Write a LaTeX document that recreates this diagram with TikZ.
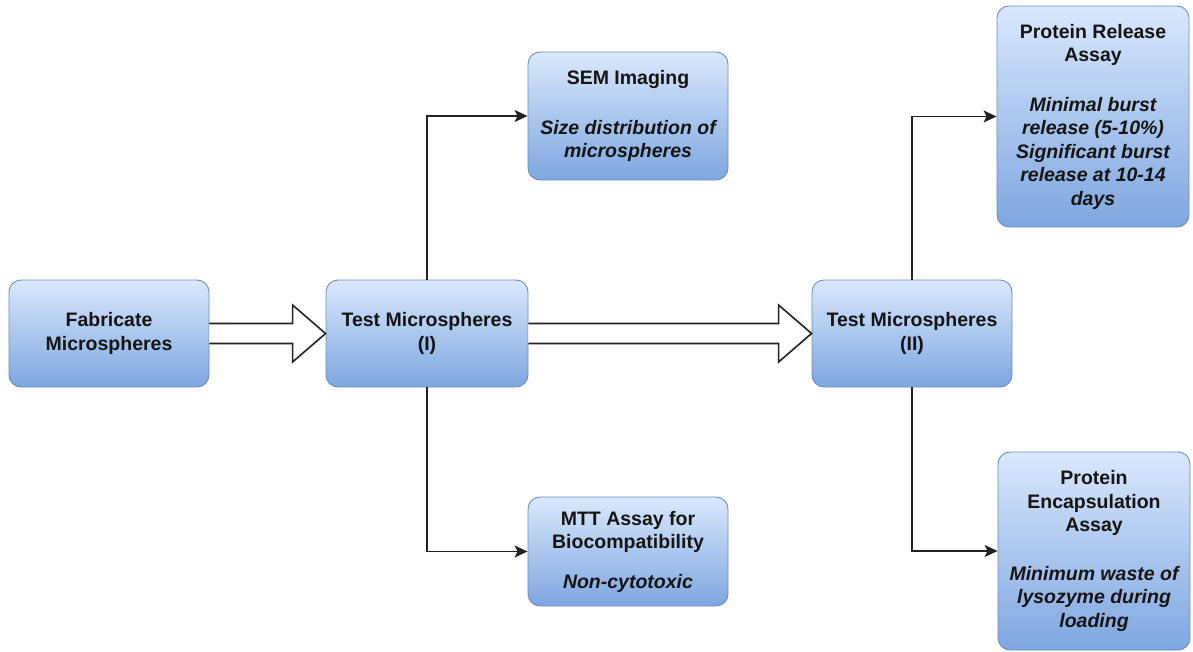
\documentclass[tikz,border=0pt]{standalone}
\usepackage{fontspec}
\setmainfont{Liberation Sans}
\usetikzlibrary{arrows.meta,calc}
\definecolor{topc}{HTML}{DAE8FC}
\definecolor{botc}{HTML}{7EA6E0}
\definecolor{bordc}{HTML}{6C8EBF}
\definecolor{txtc}{HTML}{151515}
\definecolor{linec}{HTML}{222222}
\begin{document}
\begin{tikzpicture}[x=1pt,y=-1pt,
  box/.style={draw=bordc, line width=0.9pt, rounded corners=12pt,
    top color=topc, bottom color=botc, align=center, text=txtc,
    font=\bfseries\fontsize{19.5}{23.5}\selectfont, inner sep=2pt},
  blockarrow/.style={draw=linec, line width=1.6pt, fill=white, line join=miter},
  conn/.style={draw=linec, line width=1.4pt, -{Stealth[length=13pt,width=12pt,inset=3pt]}}
]
\useasboundingbox (0,0) rectangle (1193,651);

\node[box, minimum width=200pt, minimum height=107pt] (A) at (109,333.5) {Fabricate\\Microspheres};
\node[box, minimum width=202pt, minimum height=107pt] (B) at (427,333.5) {Test Microspheres\\(I)};
\node[box, minimum width=200pt, minimum height=107pt] (C) at (912,333.5) {Test Microspheres\\(II)};

\node[box, minimum width=200pt, minimum height=128pt] (SEM) at (628,116)
  {SEM Imaging\\[26pt]{\itshape Size distribution of}\\{\itshape microspheres}};
\node[box, minimum width=200pt, minimum height=109pt] (MTT) at (628,551.5)
  {MTT Assay for\\Biocompatibility\\[16pt]{\itshape Non-cytotoxic}};
\node[box, minimum width=192pt, minimum height=221pt] (PR) at (1093,116.5)
  {Protein Release\\Assay\\[26pt]{\itshape Minimal burst}\\{\itshape release (5-10\%)}\\{\itshape Significant burst}\\{\itshape release at 10-14}\\{\itshape days}};
\node[box, minimum width=192pt, minimum height=198pt] (PE) at (1094,551)
  {Protein\\Encapsulation\\Assay\\[25pt]{\itshape Minimum waste of}\\{\itshape lysozyme during}\\{\itshape loading}};

% block arrows
\draw[blockarrow] ($(A.east)+(0,-10)$) -- ($(B.west)+(-33,-10)$) -- ($(B.west)+(-33,-28.5)$)
  -- (B.west) -- ($(B.west)+(-33,28.5)$) -- ($(B.west)+(-33,10)$) -- ($(A.east)+(0,10)$);
\draw[blockarrow] ($(B.east)+(0,-10)$) -- ($(C.west)+(-33,-10)$) -- ($(C.west)+(-33,-28.5)$)
  -- (C.west) -- ($(C.west)+(-33,28.5)$) -- ($(C.west)+(-33,10)$) -- ($(B.east)+(0,10)$);

% connectors
\draw[conn] (B.north) |- (SEM.west);
\draw[conn] (B.south) |- (MTT.west);
\draw[conn] (C.north) |- (PR.west);
\draw[conn] (C.south) |- (PE.west);
\end{tikzpicture}
\end{document}
